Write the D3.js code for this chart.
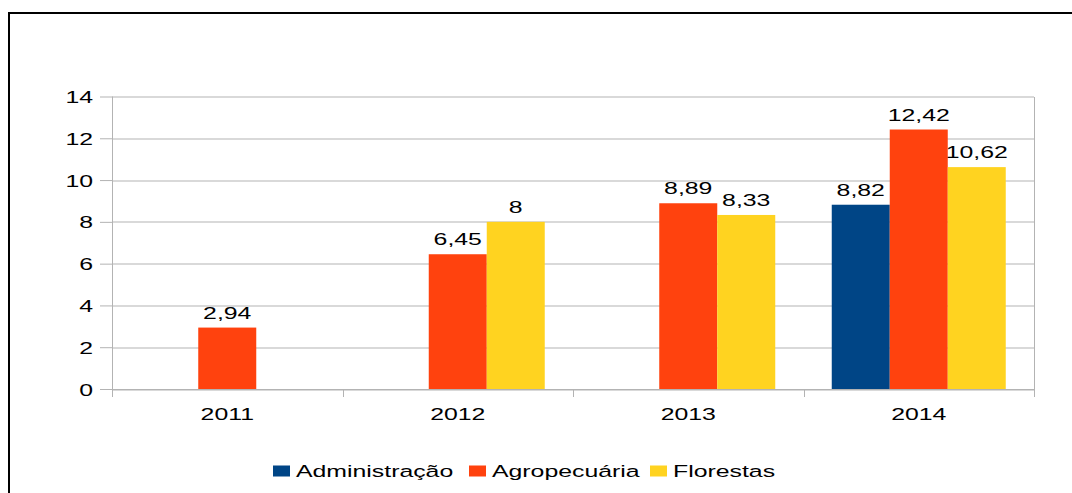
<!DOCTYPE html>
<html>
<head>
<meta charset="utf-8">
<script src="https://cdn.jsdelivr.net/npm/d3@7/dist/d3.min.js"></script>
<style>
  html, body { margin: 0; padding: 0; background: #fff; }
  svg { display: block; }
  text { font-family: "Liberation Sans", Arial, sans-serif; fill: #000; }
</style>
</head>
<body>
<svg id="chart" width="1072" height="493"></svg>
<script>
// Chart data
const years = ["2011", "2012", "2013", "2014"];
const seriesNames = ["Administração", "Agropecuária", "Florestas"];
const administracao = [null, null, null, 8.82];
const agropecuaria = [2.94, 6.45, 8.89, 12.42];
const florestas = [null, 8, 8.33, 10.62];
const yTicks = [0, 2, 4, 6, 8, 10, 12, 14];
const colors = ["#004586", "#ff420e", "#ffd320"];

const seriesValues = [administracao, agropecuaria, florestas];

const W = 1072, H = 493;
const margin = { left: 112, right: 38, top: 96.5, bottom: 104 };
const plotW = W - margin.left - margin.right;
const plotH = H - margin.top - margin.bottom;

// Text is drawn widened horizontally
const SX = 1.46;
const FS = 17;

const svg = d3.select("#chart");

// Outer frame
svg.append("rect")
  .attr("x", 9).attr("y", 13)
  .attr("width", W + 20).attr("height", H + 20)
  .attr("fill", "none").attr("stroke", "#000").attr("stroke-width", 2);

const g = svg.append("g").attr("transform", `translate(${margin.left},${margin.top})`);

const x = d3.scaleBand().domain(years).range([0, plotW]).paddingInner(0).paddingOuter(0);
const y = d3.scaleLinear().domain([0, 14]).range([plotH, 0]);
const barW = x.bandwidth() * 58 / 230.5;
const xs = d3.scaleBand().domain(seriesNames).range([0, barW * 3]);

// Horizontal gridlines
g.append("g").selectAll("line").data(yTicks).join("line")
  .attr("x1", 0).attr("x2", plotW)
  .attr("y1", d => Math.round(y(d)) + 0.5).attr("y2", d => Math.round(y(d)) + 0.5)
  .attr("stroke", "#b3b3b3").attr("stroke-width", 1);

// Right border of plot area
g.append("line")
  .attr("x1", plotW + 0.5).attr("x2", plotW + 0.5)
  .attr("y1", Math.round(y(14)) + 0.5).attr("y2", plotH + 8)
  .attr("stroke", "#b3b3b3");

// Bars
const groups = g.append("g").selectAll("g").data(years).join("g")
  .attr("transform", d => `translate(${x(d) + (x.bandwidth() - barW * 3) / 2},0)`);

seriesNames.forEach((name, si) => {
  groups.each(function (yr, yi) {
    const v = seriesValues[si][yi];
    if (v == null) return;
    const sel = d3.select(this);
    sel.append("rect")
      .attr("x", xs(name)).attr("width", xs.bandwidth())
      .attr("y", y(v)).attr("height", y(0) - y(v))
      .attr("fill", colors[si]);
    sel.append("text")
      .attr("transform", `translate(${xs(name) + xs.bandwidth() / 2},${y(v) - 9}) scale(${SX},1)`)
      .attr("text-anchor", "middle")
      .attr("font-size", FS)
      .text(String(v).replace(".", ","));
  });
});

// Y axis
const yAxis = g.append("g").call(
  d3.axisLeft(y).tickValues(yTicks).tickSize(12).tickPadding(0).tickFormat(d => d)
);
yAxis.select(".domain").attr("stroke", "#b3b3b3").attr("d", `M0.5,${y(14)}V${plotH + 8}`);
yAxis.selectAll(".tick line").attr("stroke", "#b3b3b3");
yAxis.selectAll(".tick text")
  .attr("x", 0).attr("dy", "0.36em")
  .attr("font-size", FS).attr("font-family", null)
  .attr("transform", `translate(-19,0) scale(${SX},1)`);

// X axis
const xAxis = g.append("g").attr("transform", `translate(0,${plotH})`).call(
  d3.axisBottom(x).tickSize(0).tickPadding(0)
);
xAxis.select(".domain").attr("stroke", "#b3b3b3").attr("d", `M0,0.5H${plotW}`);
xAxis.selectAll(".tick text")
  .attr("y", 0).attr("dy", null)
  .attr("font-size", FS).attr("font-family", null)
  .attr("transform", `translate(0,31) scale(${SX},1)`);
// category separators
xAxis.append("g").selectAll("line").data(d3.range(years.length + 1)).join("line")
  .attr("x1", i => Math.round(i * x.step()) + 0.5).attr("x2", i => Math.round(i * x.step()) + 0.5)
  .attr("y1", 0).attr("y2", 8)
  .attr("stroke", "#b3b3b3");

// Legend
const legendX = [273, 469, 650];
const legend = svg.append("g").attr("transform", "translate(0,471)");
seriesNames.forEach((name, i) => {
  legend.append("rect")
    .attr("x", legendX[i]).attr("y", -5.5)
    .attr("width", 17).attr("height", 11)
    .attr("fill", colors[i]);
  legend.append("text")
    .attr("transform", `translate(${legendX[i] + 23},6) scale(${SX},1)`)
    .attr("font-size", FS)
    .text(name);
});
</script>
</body>
</html>
